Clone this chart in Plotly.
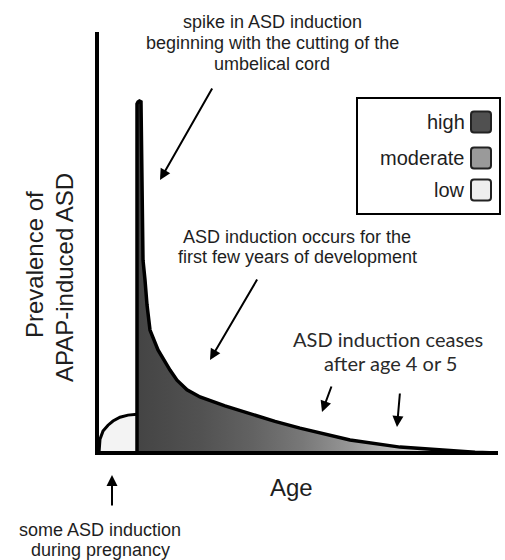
import plotly.graph_objects as go

# ---------------- data ----------------
# pregnancy ("low") induction arc
low_age = [0.5, 0.75, 1.5, 2.75, 4.0, 5.75, 7.75, 10.0]
low_prev = [0.0, 3.3, 5.2, 6.6, 7.6, 8.5, 9.0, 9.2]

# post-birth spike and decay
post_age = [10.0, 10.0, 10.25, 10.6, 11.0, 11.25, 11.5, 12.0, 12.5, 13.25, 15.25,
            18.25, 20.0, 22.5, 25.75, 32.0, 38.25, 44.5, 50.75, 63.25, 75.75,
            88.25, 94.5, 100.0]
post_prev = [0.0, 82.9, 83.4, 83.6, 83.4, 60.1, 45.8, 41.1, 35.2, 29.2, 24.5,
             19.7, 17.3, 15.0, 13.3, 11.2, 9.3, 7.5, 5.9, 3.1, 1.4,
             0.5, 0.15, 0.0]

legend_labels = ["high", "moderate", "low"]
legend_colors = ["#505050", "#9a9a9a", "#eeeeee"]

# ---------------- layout helpers ----------------
W, H = 505, 560
L, R, T, B = 97, 497, 32, 453


def px(x):
    return (x - L) / (R - L)


def py(y):
    return (B - y) / (B - T)


FONT = "Liberation Sans, Arial, sans-serif"
TXT = "#1e1e1e"

fig = go.Figure()

fig.add_trace(go.Scatter(
    x=low_age, y=low_prev, mode="lines", fill="tozeroy",
    fillcolor="#f3f3f3", line=dict(color="black", width=3),
    hoverinfo="skip"))

fig.add_trace(go.Scatter(
    x=post_age, y=post_prev, mode="lines", fill="tozeroy",
    fillgradient=dict(type="horizontal", colorscale=[
        [0.0, "#444444"], [0.18, "#525252"], [0.32, "#626262"],
        [0.46, "#787878"], [0.6, "#989898"], [0.68, "#b2b2b2"],
        [0.79, "#d4d4d4"], [1.0, "#f0f0f0"]]),
    line=dict(color="black", width=3.5),
    hoverinfo="skip"))

shapes = []
# axes
shapes.append(dict(type="line", xref="paper", yref="paper",
                   x0=px(95), x1=px(498), y0=py(453), y1=py(453),
                   line=dict(color="black", width=4)))
shapes.append(dict(type="line", xref="paper", yref="paper",
                   x0=px(97), x1=px(97), y0=py(455), y1=py(32),
                   line=dict(color="black", width=4)))
# legend box
shapes.append(dict(type="rect", xref="paper", yref="paper",
                   x0=px(357), x1=px(500), y0=py(214), y1=py(98),
                   line=dict(color="black", width=2), fillcolor="white"))


def rounded_rect(x0, y0, x1, y1, r):
    pts = [
        ("M", (x0 + r, y0)), ("L", (x1 - r, y0)), ("Q", (x1, y0), (x1, y0 + r)),
        ("L", (x1, y1 - r)), ("Q", (x1, y1), (x1 - r, y1)),
        ("L", (x0 + r, y1)), ("Q", (x0, y1), (x0, y1 - r)),
        ("L", (x0, y0 + r)), ("Q", (x0, y0), (x0 + r, y0)),
    ]
    s = ""
    for item in pts:
        cmd = item[0]
        coords = " ".join(f"{px(a):.5f},{py(b):.5f}" for a, b in item[1:])
        s += f"{cmd} {coords} "
    return s + "Z"


annotations = []
legend_y = [122, 158, 190]
for lab, col, yc in zip(legend_labels, legend_colors, legend_y):
    shapes.append(dict(type="path", xref="paper", yref="paper",
                       path=rounded_rect(471, yc - 10.5, 491, yc + 10.5, 3),
                       fillcolor=col, line=dict(color="#222222", width=2)))
    annotations.append(dict(xref="paper", yref="paper", x=px(467), y=py(yc),
                            xanchor="right", yanchor="middle", text=lab,
                            showarrow=False,
                            font=dict(family=FONT, size=20, color=TXT)))


def text(t, x, y, size=18, family=FONT, color=TXT, angle=0):
    annotations.append(dict(xref="paper", yref="paper", x=px(x), y=py(y),
                            xanchor="center", yanchor="middle", text=t,
                            showarrow=False, textangle=angle,
                            font=dict(family=family, size=size, color=color)))


def arrow(tail, tip):
    annotations.append(dict(xref="paper", yref="paper", x=px(tip[0]), y=py(tip[1]),
                            ax=tail[0] - tip[0], ay=tail[1] - tip[1],
                            axref="pixel", ayref="pixel", text="",
                            showarrow=True, arrowhead=2, arrowsize=1.1,
                            arrowwidth=2, arrowcolor="black"))


text("spike in ASD induction", 272, 22)
text("beginning with the cutting of the", 272, 43)
text("umbelical cord", 272, 64)
arrow((213, 87), (160, 180))

text("ASD induction occurs for the", 297, 237)
text("first few years of development", 297, 257)
arrow((258, 278), (210, 360))

CAL = "Lato, sans-serif"
text("ASD induction ceases", 388, 339, size=20, family=CAL, color="#2a2a2a")
text("after age 4 or 5", 390, 363, size=20, family=CAL, color="#2a2a2a")
arrow((332, 385), (322, 412))
arrow((400, 392), (397, 427))

text("Age", 291, 487, size=24)
text("Prevalence of", 34, 265, size=24, angle=-90)
text("APAP-induced ASD", 64, 278, size=24, angle=-90)

arrow((112, 507), (112, 475))
text("some ASD induction", 100, 530)
text("during pregnancy", 100, 550)

fig.update_layout(
    width=W, height=H,
    margin=dict(l=L, r=W - R, t=T, b=H - B, pad=0),
    paper_bgcolor="white", plot_bgcolor="white",
    showlegend=False,
    xaxis=dict(range=[0, 100], visible=False, fixedrange=True),
    yaxis=dict(range=[0, 100], visible=False, fixedrange=True),
    shapes=shapes, annotations=annotations,
)

fig.write_html(
    "out.html",
    config={"displayModeBar": False, "staticPlot": True},
    post_script="document.body.style.margin='0';document.body.style.overflow='hidden';",
)
